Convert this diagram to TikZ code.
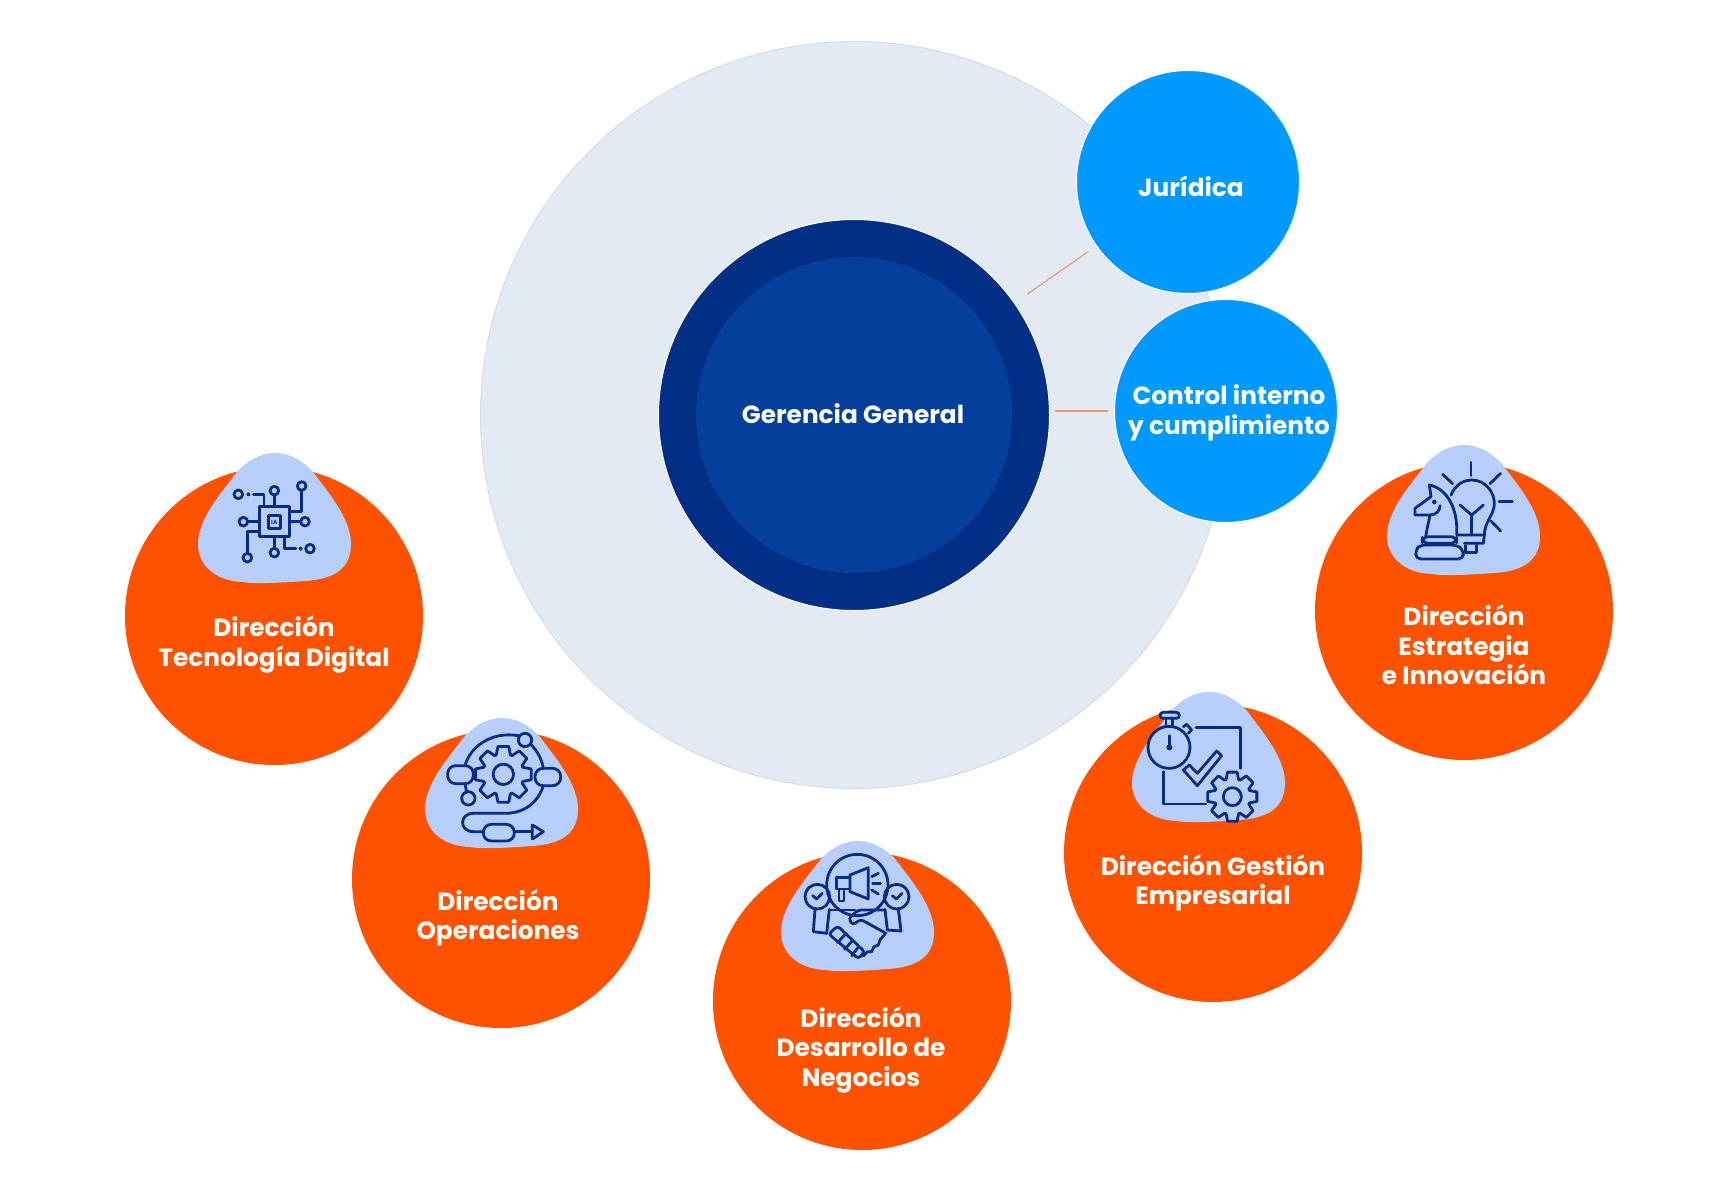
\documentclass[tikz,border=0pt]{standalone}
\usepackage{fontspec}
\setmainfont{Poppins}
\definecolor{ringgray}{HTML}{E4EAF4}
\definecolor{ringedge}{HTML}{D8DEE9}
\definecolor{navyouter}{HTML}{022F86}
\definecolor{navyinner}{HTML}{033F9B}
\definecolor{skyblue}{HTML}{0099FF}
\definecolor{areaorange}{HTML}{FF5200}
\definecolor{blobblue}{HTML}{B8CFFD}
\definecolor{iconnavy}{HTML}{012C87}
\definecolor{linkorange}{HTML}{EE9A72}
\tikzset{
	bigring/.style={circle, fill=ringgray, draw=ringedge, line width=1pt, minimum size=747pt, inner sep=0pt, outer sep=0pt},
	gerouter/.style={circle, fill=navyouter, draw=white, line width=1pt, minimum size=391pt, inner sep=0pt, outer sep=0pt},
	gerinner/.style={circle, fill=navyinner, minimum size=316pt, inner sep=0pt, outer sep=0pt},
	staffarea/.style={circle, fill=skyblue, draw=white, line width=1pt, minimum size=223pt, inner sep=0pt, outer sep=0pt},
	linearea/.style={circle, fill=areaorange, minimum size=298pt, inner sep=0pt, outer sep=0pt},
	areatext/.style={text=white, align=center, font=\fontsize{24.8}{29.7}\selectfont\bfseries},
	link/.style={draw=linkorange, line width=1.2pt},
	iconline/.style={draw=iconnavy, line width=2.8pt, line join=round, line cap=round},
	zoomed/.style={shift={#1}, scale=1/3},
	blobshape/.pic={
		\fill[blobblue] (0,0) .. controls (15,0) and (28,8) .. (38,19)
			.. controls (52,38) and (76,65) .. (76,91)
			.. controls (76,115) and (60,126) .. (30,128)
			.. controls (15,129) and (0,130) .. (-10,130)
			.. controls (-20,130) and (-28,130) .. (-32,129)
			.. controls (-60,128) and (-77,112) .. (-77,91)
			.. controls (-77,65) and (-52,38) .. (-38,19)
			.. controls (-28,8) and (-15,0) .. (0,0) -- cycle;
	},
	pinend/.pic={
		\draw[iconline] (0,0) circle (13);
	},
	gearwheel/.pic={
		\draw[iconline] (112:#1*0.73) \foreach \a in {90,45,0,-45,-90,-135,180,135} {
			-- ({\a+20}:#1*0.73) -- ({\a+11}:#1) -- ({\a-11}:#1) -- ({\a-20}:#1*0.73)
		} -- cycle;
		\draw[iconline] (0,0) circle (#1*0.36);
	}
}
\begin{document}
\begin{tikzpicture}[x=1pt,y=-1pt]
	\useasboundingbox (0,0) rectangle (1712,1200);
	\fill[white] (0,0) rectangle (1712,1200);

	\node[bigring] (ring) at (854,415) {};
	\node[gerouter] (gerencia) at (854,415) {};
	\node[gerinner] (gerenciacore) at (854,415) {};
	\node[staffarea] (juridica) at (1188,182) {};
	\node[staffarea] (control) at (1226,411) {};
	\draw[link, shorten <=16pt, shorten >=10pt] (gerencia) -- (juridica);
	\draw[link, shorten <=5pt, shorten >=7pt] (gerencia.east |- control) -- (control);

	\node[linearea] (tecnologia) at (274,616) {};
	\node[linearea] (operaciones) at (501,879) {};
	\node[linearea] (desarrollo) at (862,1001) {};
	\node[linearea] (gestion) at (1213,853) {};
	\node[linearea] (estrategia) at (1464,611) {};

	\pic at (275,453) {blobshape};
	\pic at (502,718) {blobshape};
	\pic at (858,841) {blobshape};
	\pic at (1209,692) {blobshape};
	\pic at (1464,445) {blobshape};

	\node[areatext] (gerencialabel) at (853,414) {Gerencia General};
	\node[areatext] (juridicalabel) at (1191,186) {Jurídica};
	\node[areatext] (controllabel) at (1229,413) {Control interno\\y cumplimiento};
	\node[areatext] (tecnologialabel) at (274,644.5) {Dirección\\Tecnología Digital};
	\node[areatext] (operacioneslabel) at (498,918) {Dirección\\Operaciones};
	\node[areatext] (desarrollolabel) at (861,1050) {Dirección\\Desarrollo de\\Negocios};
	\node[areatext] (gestionlabel) at (1213,883) {Dirección Gestión\\Empresarial};
	\node[areatext] (estrategialabel) at (1464,645) {Dirección\\Estrategia\\e Innovación};

	\begin{scope}[zoomed={(190,440)}]
		\draw[iconline] (208,200) rectangle (298,290);
		\draw[iconline, line width=3pt] (235,227) rectangle (271,264);
		\node[text=iconnavy, inner sep=0pt, font=\fontsize{6}{6}\selectfont\bfseries] (chiptext) at (253,246) {IA};
		\foreach \px/\py in {145/163,253/152,335/138,345/245,160/245,172/353,253/338,360/326} {
			\pic[transform shape] at (\px,\py) {pinend};
		}
		\fill[iconnavy] (175,163) circle (6) (332,326) circle (6);
		\draw[iconline] (190,163) -- (222,163) -- (222,200);
		\draw[iconline] (253,165) -- (253,200);
		\draw[iconline] (335,152) -- (335,215) -- (298,215);
		\draw[iconline] (298,245) -- (332,245);
		\draw[iconline] (173,245) -- (208,245);
		\draw[iconline] (172,340) -- (172,275) -- (208,275);
		\draw[iconline] (253,325) -- (253,290);
		\draw[iconline] (283,290) -- (283,326) -- (318,326);
	\end{scope}

	\begin{scope}[zoomed={(415,705)}]
		\pic[transform shape] at (265,208) {gearwheel=85};
		\draw[iconline] (330,105) circle (20);
		\draw[iconline] (160,280) circle (20);
		\draw[iconline, rounded corners=8pt] (98,182) rectangle (175,236);
		\draw[iconline, rounded corners=8pt] (360,190) rectangle (437,242);
		\draw[iconline] (150,182) .. controls (165,125) and (230,78) .. (310,92);
		\draw[iconline] (347,118) .. controls (365,135) and (380,160) .. (385,190);
		\draw[iconline] (385,242) .. controls (370,290) and (330,325) .. (270,325) -- (175,325)
			.. controls (132,325) and (132,380) .. (175,380) -- (205,380);
		\draw[iconline, rounded corners=8pt] (205,358) rectangle (298,408);
		\draw[iconline] (298,380) -- (352,380);
		\draw[iconline] (352,360) -- (385,380) -- (352,402) -- cycle;
		\draw[iconline] (150,236) -- (155,262);
	\end{scope}

	\begin{scope}[zoomed={(770,830)}]
		\draw[iconline] (262,165) circle (92);
		\draw[iconline] (240,135) -- (295,113) -- (295,207) -- (240,185) -- cycle;
		\draw[iconline] (200,143) rectangle (240,177);
		\draw[iconline] (207,177) rectangle (222,213);
		\draw[iconline] (305,140) -- (325,130);
		\draw[iconline] (308,160) -- (332,160);
		\draw[iconline] (305,180) -- (325,192);
		\draw[iconline] (142,200) circle (37);
		\draw[iconline] (380,200) circle (37);
		\draw[iconline] (128,197) -- (140,207) -- (157,190);
		\draw[iconline] (367,197) -- (379,207) -- (396,190);
		\draw[iconline] (135,238) -- (130,305) -- (170,310) -- (178,238);
		\draw[iconline] (345,238) -- (352,300) -- (393,303) -- (385,238);
		\draw[iconline] (178,240) -- (255,240);
		\draw[iconline, rounded corners=3pt] (345,240) -- (265,240) -- (236,265) -- (248,285) -- (272,268) -- (348,310);
		\draw[iconline, rounded corners=3pt] (176,312) -- (203,288) -- (284,365) -- (265,386) -- cycle;
		\draw[iconline] (203,338) -- (226,312);
		\draw[iconline] (224,358) -- (247,332);
		\draw[iconline] (245,377) -- (266,350);
		\draw[iconline] (280,378) -- (292,365) -- (305,365) -- (312,350) -- (325,345) -- (330,330) -- (345,312);
	\end{scope}

	\begin{scope}[zoomed={(1120,685)}]
		\draw[iconline] (147,187) circle (63);
		\draw[iconline, fill=blobblue, rounded corners=3pt] (120,82) rectangle (178,100);
		\draw[iconline] (138,100) -- (138,122);
		\draw[iconline] (158,100) -- (158,122);
		\draw[iconline] (190,125) -- (200,118) -- (215,135) -- (205,145);
		\draw[iconline] (148,152) -- (148,190);
		\fill[iconnavy] (148,187) circle (9);
		\draw[iconline] (228,128) -- (362,128) -- (362,250);
		\draw[iconline] (130,260) -- (130,357) -- (258,357);
		\draw[iconline] (190,255) -- (208,240) -- (232,265) -- (290,198) -- (305,212) -- (232,302) -- cycle;
		\pic[transform shape] at (337,335) {gearwheel=75};
	\end{scope}

	\begin{scope}[zoomed={(1375,435)}]
		\draw[iconline] (288,82) -- (288,122);
		\draw[iconline] (203,118) -- (233,146);
		\draw[iconline] (377,115) -- (345,146);
		\draw[iconline] (372,200) -- (412,200);
		\draw[iconline] (348,258) -- (377,288);
		\draw[iconline] (228,180) .. controls (240,150) and (265,135) .. (290,135)
			.. controls (330,135) and (358,170) .. (358,205)
			.. controls (358,240) and (328,260) .. (328,300) -- (248,300);
		\draw[iconline] (328,300) -- (325,325) -- (268,325);
		\draw[iconline] (272,332) -- (272,352) -- (305,352) -- (305,330);
		\draw[iconline] (255,210) -- (290,240) -- (325,210);
		\draw[iconline] (290,240) -- (290,300);
		\draw[iconline] (163,150) .. controls (215,160) and (250,220) .. (245,300);
		\draw[iconline] (163,150) -- (168,185) -- (120,220) -- (120,240) -- (165,240)
			.. controls (160,265) and (155,285) .. (152,305);
		\draw[iconline] (165,240) .. controls (185,240) and (195,225) .. (195,212);
		\fill[iconnavy] (178,201) circle (7);
		\draw[iconline, rounded corners=6pt] (142,305) rectangle (245,325);
		\draw[iconline, rounded corners=5pt] (122,372) -- (122,345) -- (135,330) -- (245,330) -- (265,345) -- (265,372) -- cycle;
	\end{scope}
\end{tikzpicture}
\end{document}
